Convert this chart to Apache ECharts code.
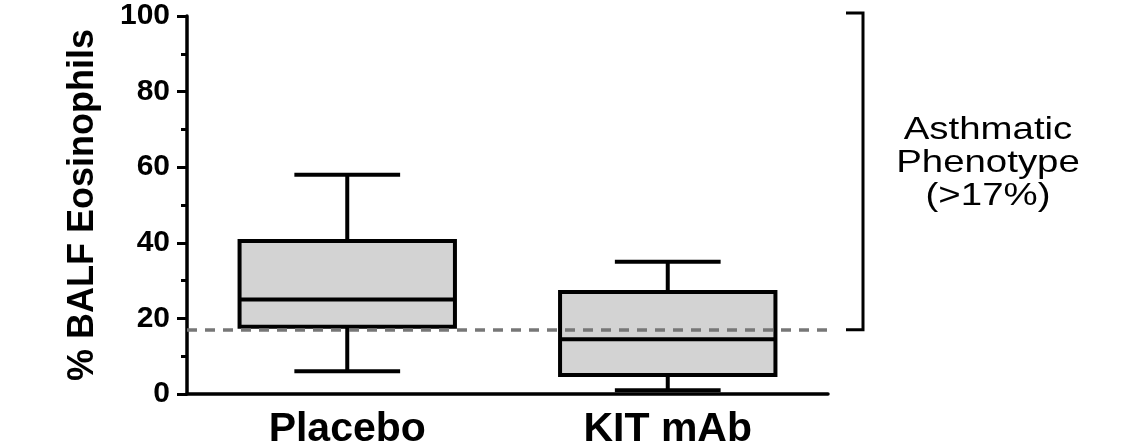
<!DOCTYPE html>
<html>
<head>
<meta charset="utf-8">
<script src="https://cdn.jsdelivr.net/npm/echarts@6/dist/echarts.min.js"></script>
<style>html,body{margin:0;padding:0;background:#fff}#c{width:1147px;height:445px}</style>
</head>
<body>
<div id="c"></div>
<script>
// ---- data ----
var categories = ['Placebo', 'KIT mAb'];
// [min, Q1, median, Q3, max]
var placeboBox = [6, 17.8, 25, 40.5, 58];
var kitBox = [1, 5, 14.5, 27, 35];
var yTicks = [0, 20, 40, 60, 80, 100];
var thresholdValue = 17;
var bracketRange = [17, 100.8];
var yTitle = '% BALF Eosinophils';
var noteLines = ['Asthmatic', 'Phenotype', '(>17%)'];

var FONT = '"Liberation Sans", Arial, Helvetica, sans-serif';
var chart = echarts.init(document.getElementById('c'), null, {renderer: 'canvas'});

var boxData = [
  [0].concat(placeboBox),
  [1].concat(kitBox)
];

function renderBox(params, api) {
  var idx = api.value(0);
  var mn = api.coord([idx, api.value(1)]);
  var q1 = api.coord([idx, api.value(2)]);
  var md = api.coord([idx, api.value(3)]);
  var q3 = api.coord([idx, api.value(4)]);
  var mx = api.coord([idx, api.value(5)]);
  var band = api.size([1, 0])[0];
  var cx = mn[0];
  var hw = band * 0.336;
  var cw = band * 0.165;
  var ls = {stroke: '#000', lineWidth: 4};
  return {
    type: 'group',
    children: [
      {type: 'line', shape: {x1: cx, y1: mx[1], x2: cx, y2: q3[1]}, style: ls},
      {type: 'line', shape: {x1: cx, y1: q1[1], x2: cx, y2: mn[1]}, style: ls},
      {type: 'line', shape: {x1: cx - cw, y1: mx[1], x2: cx + cw, y2: mx[1]}, style: ls},
      {type: 'line', shape: {x1: cx - cw, y1: mn[1], x2: cx + cw, y2: mn[1]}, style: ls},
      {type: 'rect', shape: {x: cx - hw, y: q3[1], width: hw * 2, height: q1[1] - q3[1]},
        style: {fill: '#d3d3d3', stroke: '#000', lineWidth: 4}},
      {type: 'line', shape: {x1: cx - hw, y1: md[1], x2: cx + hw, y2: md[1]}, style: ls}
    ]
  };
}

function renderBracket(params, api) {
  var lo = api.coord([1, api.value(0)]);
  var hi = api.coord([1, api.value(1)]);
  var rect = params.coordSys;
  var xr = rect.x + rect.width;
  var x1 = xr + 18, x2 = xr + 35;
  return {
    type: 'polyline',
    shape: {points: [[x1, hi[1]], [x2, hi[1]], [x2, lo[1]], [x1, lo[1]]]},
    style: {stroke: '#000', lineWidth: 3, fill: null}
  };
}

var option = {
  animation: false,
  backgroundColor: '#fff',
  grid: {left: 187, right: 319, top: 16, bottom: 51, containLabel: false, outerBoundsMode: 'none'},
  xAxis: {
    type: 'category',
    data: categories,
    boundaryGap: true,
    axisLine: {lineStyle: {color: '#000', width: 3.5}},
    axisTick: {show: false},
    axisLabel: {color: '#000', fontFamily: FONT, fontWeight: 'bold', fontSize: 41, margin: 15},
    splitLine: {show: false}
  },
  yAxis: {
    type: 'value',
    min: yTicks[0],
    max: yTicks[yTicks.length - 1],
    interval: 20,
    name: yTitle,
    nameLocation: 'middle',
    nameRotate: 90,
    nameGap: 86,
    nameTextStyle: {color: '#000', fontFamily: FONT, fontWeight: 'bold', fontSize: 36},
    axisLine: {show: true, lineStyle: {color: '#000', width: 3.5}},
    axisTick: {show: true, length: 10, lineStyle: {color: '#000', width: 3}},
    minorTick: {show: true, splitNumber: 2, length: 6, lineStyle: {color: '#000', width: 3}},
    axisLabel: {color: '#000', fontFamily: FONT, fontWeight: 'bold', fontSize: 30, margin: 17},
    splitLine: {show: false}
  },
  series: [
    {
      type: 'custom',
      name: 'threshold',
      data: [],
      renderItem: function () { return null; },
      markLine: {
        silent: true,
        symbol: 'none',
        label: {show: false},
        lineStyle: {color: '#777', type: [10, 8], width: 3.5},
        data: [{yAxis: thresholdValue}]
      },
      z: 1
    },
    {
      type: 'custom',
      name: 'box',
      renderItem: renderBox,
      data: boxData,
      z: 3
    },
    {
      type: 'custom',
      name: 'bracket',
      renderItem: renderBracket,
      clip: false,
      data: [bracketRange],
      z: 3
    }
  ],
  graphic: [
    {
      type: 'text',
      x: 988,
      y: 163,
      scaleX: 1.2,
      originX: 0,
      style: {
        text: noteLines.join('\n'),
        fill: '#000',
        font: '32px ' + FONT,
        align: 'center',
        verticalAlign: 'middle',
        lineHeight: 33
      }
    }
  ]
};
chart.setOption(option);
</script>
</body>
</html>
